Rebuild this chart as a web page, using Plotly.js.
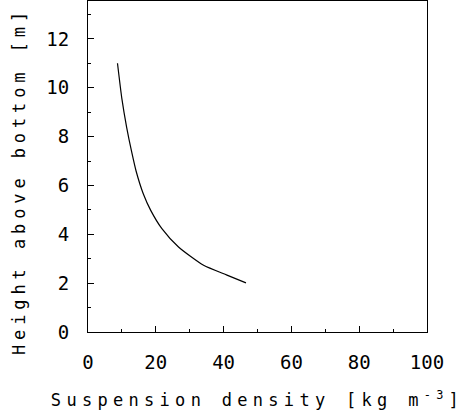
<!DOCTYPE html>
<html>
<head>
<meta charset="utf-8">
<script src="https://cdn.plot.ly/plotly-3.0.1.min.js"></script>
<style>
html,body{margin:0;padding:0;background:#fff;}
#chart{width:467px;height:414px;}
.g-xtitle text{letter-spacing:5.3px;}
.annotation-text{letter-spacing:4.9px;}
</style>
</head>
<body>
<div id="chart"></div>
<script>
// Suspension density [kg m^-3] vs height above bottom [m]
const density = [8.7, 10.0, 11.4, 12.9, 14.2, 16.3, 18.5, 21.8, 26.7, 34.1, 41.0, 46.6];
const height  = [11.0, 9.54, 8.38, 7.36, 6.58, 5.66, 4.98, 4.23, 3.48, 2.73, 2.33, 2.01];
const xTicks = [0, 20, 40, 60, 80, 100];
const yTicks = [0, 2, 4, 6, 8, 10, 12];
const xTitle = 'Suspension density [kg m<sup>-3</sup>]';
const yTitle = 'Height above bottom [m]';

const font = {family: 'DejaVu Sans Mono, Liberation Mono, monospace', color: '#000'};

const trace = {
  x: density, y: height, type: 'scatter', mode: 'lines',
  line: {color: '#000', width: 1.2, shape: 'spline', smoothing: 0.6},
  hoverinfo: 'none'
};

const layout = {
  width: 467, height: 414,
  margin: {l: 88, r: 40, t: 1, b: 82},
  paper_bgcolor: '#fff', plot_bgcolor: '#fff',
  showlegend: false,
  font: Object.assign({size: 17}, font),
  xaxis: {
    range: [0, 100], tickvals: xTicks, ticktext: xTicks.map(String),
    ticks: 'inside', ticklen: 6, tickwidth: 1, tickcolor: '#000',
    minor: {dtick: 10, tick0: 0, ticks: 'inside', ticklen: 3, tickcolor: '#000'},
    showline: true, linecolor: '#000', linewidth: 1, mirror: true,
    showgrid: false, zeroline: false,
    tickfont: Object.assign({size: 19}, font),
    ticklabelstandoff: 13,
    title: {text: xTitle, font: Object.assign({size: 17}, font), standoff: 22},
    automargin: false
  },
  yaxis: {
    range: [0, 13.55], tickvals: yTicks, ticktext: yTicks.map(String),
    ticks: 'inside', ticklen: 6, tickwidth: 1, tickcolor: '#000',
    minor: {dtick: 1, tick0: 0, ticks: 'inside', ticklen: 3, tickcolor: '#000'},
    showline: true, linecolor: '#000', linewidth: 1, mirror: true,
    showgrid: false, zeroline: false,
    tickfont: Object.assign({size: 19}, font),
    ticklabelstandoff: 14,
    automargin: false
  },
  annotations: [{
    text: yTitle, textangle: -90, showarrow: false,
    xref: 'paper', yref: 'paper', x: 0, y: 0.456,
    xanchor: 'center', yanchor: 'middle', xshift: -69,
    font: Object.assign({size: 17}, font)
  }]
};

Plotly.newPlot('chart', [trace], layout, {displayModeBar: false, staticPlot: true});
</script>
</body>
</html>
